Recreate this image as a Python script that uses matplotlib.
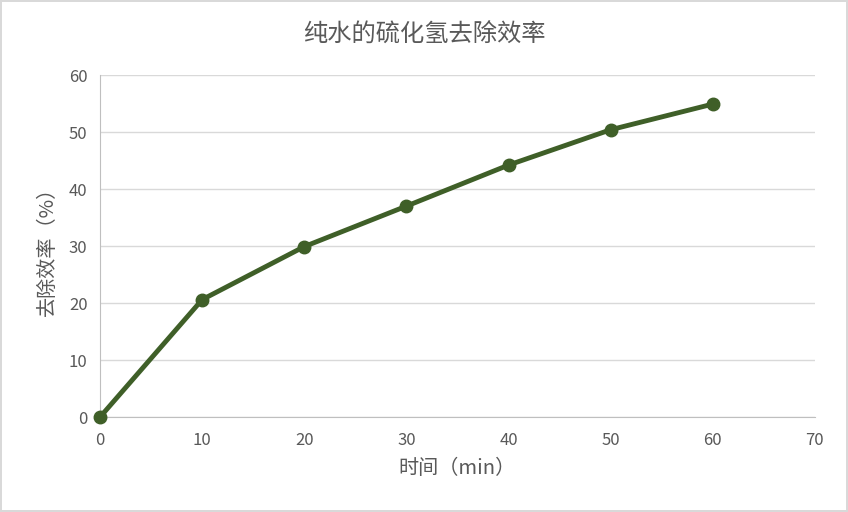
import matplotlib
matplotlib.use('Agg')
import matplotlib.pyplot as plt

plt.rcParams['font.family'] = ['Noto Sans CJK SC', 'DejaVu Sans']

# 数据
time_min = [0, 10, 20, 30, 40, 50, 60]
removal = [0, 20.6, 29.9, 37.0, 44.2, 50.4, 54.9]

GRAY = '#595959'
GRID = '#d9d9d9'
GREEN = '#3f5f28'

fig = plt.figure(figsize=(8.48, 5.12), dpi=100)
fig.patch.set_edgecolor('#d9d9d9')
fig.patch.set_linewidth(1.5)
ax = fig.add_axes([0.118, 0.1855, 0.843, 0.668])

ax.plot(time_min, removal, color=GREEN, linewidth=3.5, marker='o',
        markersize=9, zorder=3, clip_on=False)

ax.set_xlim(0, 70)
ax.set_ylim(0, 60)
ax.set_xticks(range(0, 71, 10))
ax.set_yticks(range(0, 61, 10))
ax.grid(axis='y', color=GRID, linewidth=1)
ax.set_axisbelow(True)

for s in ['top', 'right']:
    ax.spines[s].set_visible(False)
ax.spines['left'].set_color('#bfbfbf')
ax.spines['bottom'].set_color('#bfbfbf')
ax.tick_params(axis='both', colors=GRAY, labelsize=12, length=0)
ax.tick_params(axis='x', pad=11)
ax.tick_params(axis='y', pad=9)

# 标题居中于整张图
fig.text(0.5, 0.932, '纯水的硫化氢去除效率', fontsize=17.5, color=GRAY,
         ha='center', va='center')
ax.set_xlabel('时间（min）', fontsize=14.5, color=GRAY, labelpad=6)
ax.set_ylabel('去除效率（%）', fontsize=14.5, color=GRAY, labelpad=8)

fig.savefig('out.png', dpi=100, edgecolor=fig.get_edgecolor())
